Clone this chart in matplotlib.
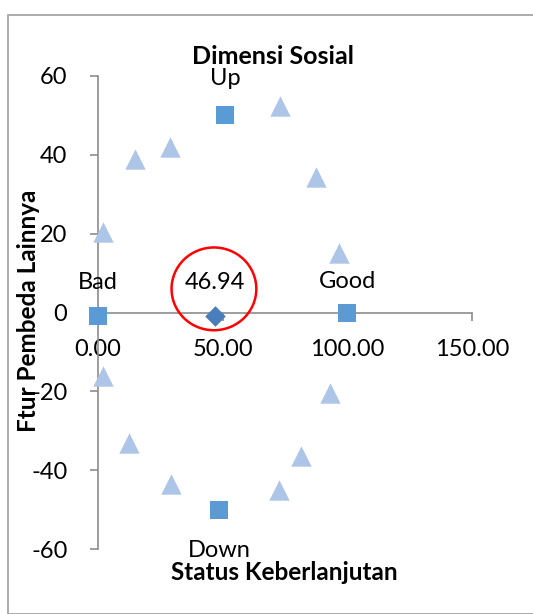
import matplotlib
matplotlib.use('Agg')
import matplotlib.pyplot as plt
from matplotlib.patches import Ellipse, Rectangle

plt.rcParams['font.family'] = ['Lato', 'DejaVu Sans']
plt.rcParams['axes.unicode_minus'] = False

# reference points (Good / Bad / Up / Down)
ref_x = [100, 0, 51, 48.5]
ref_y = [0, -1, 50, -50]
ref_names = ['Good', 'Bad', 'Up', 'Down']

# anchor points (triangles)
anc_x = [73, 29, 15, 87.5, 2, 96.5, 2, 93, 12.3, 81.5, 29.3, 72.7]
anc_y = [52.5, 42, 39, 34.5, 20.5, 15, -16, -20.5, -33, -36.5, -43.5, -45]

# sustainability index
idx_x = [46.94]
idx_y = [-1]
idx_label = '46.94'

x_ticks = [0, 50, 100, 150]
y_ticks = [-60, -40, -20, 0, 20, 40, 60]

W, H = 533, 614
fig = plt.figure(figsize=(W / 100, H / 100), dpi=100)
fig.patches.append(Rectangle((8 / W, 0), 1.2, (H - 15) / H, transform=fig.transFigure,
                             fill=False, edgecolor='#a6a6a6', linewidth=1.3))

ax = fig.add_axes([98 / W, 65 / H, 374 / W, 473 / H])
ax.set_xlim(0, 150)
ax.set_ylim(-60, 60)

ax.scatter(anc_x, anc_y, marker='^', s=215, color='#adc5e6', zorder=3, linewidths=0,
           clip_on=False)
ax.scatter(ref_x, ref_y, marker='s', s=175, color='#5b9bd5', zorder=3, linewidths=0,
           clip_on=False)
ax.scatter(idx_x, idx_y, marker='D', s=110, color='#4a7ebb', zorder=4, linewidths=0,
           clip_on=False)

for sp in ['top', 'right']:
    ax.spines[sp].set_visible(False)
ax.spines['bottom'].set_position(('data', 0))
for sp in ['left', 'bottom']:
    ax.spines[sp].set_color('#8c8c8c')
    ax.spines[sp].set_linewidth(1.2)

ax.set_xticks(x_ticks)
ax.set_xticklabels(['%.2f' % v for v in x_ticks])
ax.set_yticks(y_ticks)
ax.tick_params(axis='both', direction='out', length=6, width=1.2, color='#8c8c8c',
               labelsize=17, labelcolor='black')
ax.tick_params(axis='x', pad=13)
ax.tick_params(axis='y', pad=16)

# labels for reference points
offsets = {'Good': 15, 'Bad': 17, 'Up': 19, 'Down': -22}
for x, y, name in zip(ref_x, ref_y, ref_names):
    dy = offsets[name]
    va = 'bottom' if dy > 0 else 'top'
    ax.annotate(name, (x, y), xytext=(0, dy), textcoords='offset points',
                ha='center', va=va, fontsize=17)

ax.annotate(idx_label, (idx_x[0], idx_y[0]), xytext=(0, 17), textcoords='offset points',
            ha='center', va='bottom', fontsize=17)
ax.add_patch(Ellipse((46.5, 6), 34, 21, fill=False, edgecolor='red', linewidth=1.8,
                     zorder=5, clip_on=False))

fig.text(273 / W, 1 - 56 / H, 'Dimensi Sosial', ha='center', va='center',
         fontsize=18, fontweight='bold')
fig.text(284 / W, 1 - 572 / H, 'Status Keberlanjutan', ha='center', va='center',
         fontsize=17.5, fontweight='bold')
fig.text(29 / W, 1 - 311 / H, 'Ftur Pembeda Lainnya', ha='center', va='center',
         rotation=90, fontsize=17.5, fontweight='bold')

fig.savefig('out.png', dpi=100, facecolor='white')
